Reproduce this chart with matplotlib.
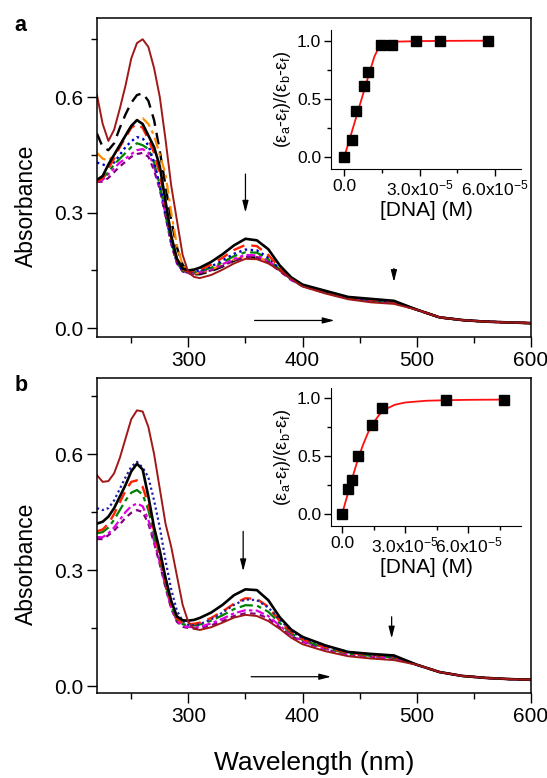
import numpy as np
import matplotlib
matplotlib.use('Agg')
import matplotlib.pyplot as plt

plt.rcParams['font.family'] = ['Liberation Sans', 'DejaVu Sans']
plt.rcParams['mathtext.default'] = 'regular'

# wavelength grid (nm) for the per-curve part, plus a shared tail
wl_head = [220, 225, 230, 235, 240, 245, 250, 255, 260, 265, 270, 275, 280, 285,
           290, 295, 300, 305, 310, 320, 330, 340, 350, 360, 370, 380, 390, 400,
           420, 440, 460, 480]
wl_tail = [500, 520, 540, 560, 580, 600]

# ---- panel a spectra ----
a_darkred = [0.605, 0.53, 0.486, 0.515, 0.57, 0.63, 0.70, 0.74, 0.75, 0.73, 0.675, 0.60,
             0.49, 0.37, 0.28, 0.19, 0.145, 0.133, 0.13, 0.138, 0.152, 0.168, 0.18, 0.179,
             0.168, 0.15, 0.128, 0.108, 0.090, 0.075, 0.067, 0.063]
a_blackdash = [0.505, 0.47, 0.462, 0.48, 0.52, 0.555, 0.585, 0.605, 0.61, 0.59, 0.54, 0.46,
               0.37, 0.28, 0.21, 0.165, 0.145, 0.14, 0.14, 0.148, 0.16, 0.175, 0.185, 0.183,
               0.172, 0.153, 0.13, 0.11, 0.092, 0.077, 0.07, 0.066]
a_orange = [0.455, 0.44, 0.435, 0.45, 0.475, 0.50, 0.525, 0.54, 0.545, 0.53, 0.50, 0.45,
            0.40, 0.30, 0.215, 0.163, 0.145, 0.142, 0.143, 0.152, 0.165, 0.178, 0.186, 0.185,
            0.173, 0.155, 0.131, 0.111, 0.093, 0.078, 0.071, 0.067]
a_black = [0.385, 0.395, 0.425, 0.45, 0.475, 0.50, 0.525, 0.54, 0.53, 0.50, 0.47, 0.42,
           0.33, 0.24, 0.18, 0.155, 0.15, 0.152, 0.157, 0.172, 0.192, 0.215, 0.232, 0.228,
           0.205, 0.163, 0.132, 0.113, 0.097, 0.081, 0.076, 0.071]
a_red = [0.38, 0.39, 0.415, 0.44, 0.47, 0.495, 0.52, 0.53, 0.52, 0.49, 0.455, 0.40,
         0.32, 0.235, 0.178, 0.152, 0.147, 0.148, 0.152, 0.165, 0.183, 0.203, 0.216, 0.213,
         0.19, 0.157, 0.129, 0.112, 0.095, 0.08, 0.074, 0.069]
a_blue = [0.43, 0.425, 0.42, 0.43, 0.45, 0.47, 0.485, 0.496, 0.492, 0.475, 0.43, 0.37,
          0.30, 0.225, 0.172, 0.15, 0.146, 0.147, 0.15, 0.16, 0.176, 0.193, 0.204, 0.202,
          0.183, 0.153, 0.128, 0.111, 0.094, 0.079, 0.073, 0.068]
a_green = [0.385, 0.39, 0.405, 0.425, 0.44, 0.455, 0.47, 0.48, 0.475, 0.465, 0.43, 0.37,
           0.30, 0.225, 0.172, 0.15, 0.145, 0.145, 0.148, 0.157, 0.171, 0.187, 0.197, 0.196,
           0.179, 0.152, 0.127, 0.11, 0.094, 0.079, 0.072, 0.068]
a_magenta = [0.38, 0.385, 0.40, 0.415, 0.43, 0.44, 0.452, 0.462, 0.465, 0.455, 0.42, 0.365,
             0.295, 0.22, 0.17, 0.148, 0.143, 0.143, 0.146, 0.154, 0.166, 0.18, 0.19, 0.189,
             0.175, 0.15, 0.126, 0.11, 0.093, 0.078, 0.071, 0.067]
a_purple = [0.38, 0.38, 0.39, 0.405, 0.42, 0.432, 0.445, 0.452, 0.455, 0.445, 0.41, 0.36,
            0.29, 0.218, 0.168, 0.147, 0.142, 0.141, 0.143, 0.15, 0.162, 0.175, 0.185, 0.184,
            0.171, 0.148, 0.125, 0.109, 0.092, 0.077, 0.07, 0.066]
a_tail = [0.048, 0.028, 0.021, 0.017, 0.015, 0.013]

# ---- panel b spectra ----
b_darkred = [0.545, 0.528, 0.53, 0.55, 0.59, 0.64, 0.69, 0.713, 0.71, 0.67, 0.60, 0.51,
             0.42, 0.36, 0.285, 0.21, 0.165, 0.148, 0.145, 0.152, 0.164, 0.177, 0.184, 0.181,
             0.168, 0.148, 0.125, 0.108, 0.09, 0.077, 0.071, 0.067]
b_blue = [0.46, 0.455, 0.46, 0.48, 0.51, 0.54, 0.567, 0.58, 0.565, 0.54, 0.48, 0.41,
          0.325, 0.25, 0.195, 0.168, 0.158, 0.157, 0.16, 0.172, 0.19, 0.21, 0.224, 0.222,
          0.203, 0.172, 0.142, 0.124, 0.103, 0.088, 0.081, 0.076]
b_black = [0.42, 0.425, 0.438, 0.46, 0.49, 0.52, 0.555, 0.575, 0.56, 0.49, 0.41, 0.35,
           0.28, 0.22, 0.18, 0.17, 0.169, 0.171, 0.176, 0.19, 0.21, 0.235, 0.25, 0.248,
           0.222, 0.178, 0.146, 0.127, 0.105, 0.088, 0.083, 0.079]
b_red = [0.40, 0.405, 0.42, 0.445, 0.475, 0.505, 0.528, 0.532, 0.515, 0.47, 0.40, 0.335,
         0.27, 0.212, 0.175, 0.162, 0.16, 0.161, 0.164, 0.176, 0.193, 0.213, 0.227, 0.225,
         0.205, 0.168, 0.139, 0.121, 0.10, 0.086, 0.08, 0.076]
b_green = [0.395, 0.398, 0.41, 0.43, 0.455, 0.48, 0.50, 0.507, 0.495, 0.455, 0.39, 0.33,
           0.265, 0.208, 0.172, 0.16, 0.157, 0.157, 0.159, 0.169, 0.183, 0.199, 0.209, 0.208,
           0.192, 0.163, 0.136, 0.119, 0.098, 0.084, 0.078, 0.074]
b_magenta = [0.385, 0.385, 0.395, 0.41, 0.43, 0.45, 0.465, 0.472, 0.465, 0.43, 0.375, 0.32,
             0.258, 0.203, 0.168, 0.156, 0.153, 0.152, 0.153, 0.162, 0.174, 0.188, 0.196, 0.195,
             0.181, 0.156, 0.132, 0.116, 0.096, 0.082, 0.076, 0.072]
b_purple = [0.38, 0.38, 0.39, 0.402, 0.418, 0.435, 0.448, 0.455, 0.45, 0.42, 0.37, 0.315,
            0.255, 0.20, 0.166, 0.153, 0.15, 0.149, 0.15, 0.157, 0.168, 0.181, 0.188, 0.187,
            0.175, 0.152, 0.13, 0.114, 0.095, 0.081, 0.075, 0.071]
b_tail = [0.055, 0.036, 0.026, 0.021, 0.018, 0.016]

# ---- insets: binding data (x in 1e-5 M) ----
ins_a_x = [0, 0.33, 0.49, 0.78, 0.97, 1.46, 1.92, 2.86, 3.83, 5.73]
ins_a_y = [0, 0.15, 0.40, 0.61, 0.73, 0.96, 0.96, 1.0, 1.0, 1.0]
fit_a_x = [0, 0.2, 0.4, 0.6, 0.8, 1.0, 1.2, 1.35, 1.5, 1.7, 2.0, 3.0, 4.0, 5.0, 5.75]
fit_a_y = [0, 0.14, 0.285, 0.43, 0.575, 0.72, 0.86, 0.93, 0.965, 0.983, 0.99, 0.995,
           0.997, 0.998, 0.998]

ins_b_x = [0, 0.29, 0.48, 0.76, 1.43, 1.90, 4.92, 7.67]
ins_b_y = [0, 0.22, 0.30, 0.50, 0.77, 0.92, 0.99, 0.99]
fit_b_x = [0, 0.25, 0.5, 0.75, 1.0, 1.25, 1.5, 1.75, 2.0, 2.5, 3.0, 4.0, 5.0, 6.0, 7.7]
fit_b_y = [0, 0.16, 0.32, 0.47, 0.60, 0.71, 0.79, 0.855, 0.90, 0.945, 0.965, 0.98,
           0.985, 0.988, 0.99]

# styles: (data, color, linestyle, linewidth)
styles_a = [
    (a_blackdash, 'black', (0, (5, 3)), 1.7),
    (a_orange, '#FF8C00', (0, (5, 2, 1.5, 2)), 1.6),
    (a_purple, '#800080', (0, (2.5, 2)), 1.6),
    (a_magenta, '#E000E0', (0, (4, 1.5, 1.5, 1.5, 1.5, 1.5)), 1.6),
    (a_green, '#008000', (0, (6, 2, 2, 2)), 1.6),
    (a_blue, '#0000CC', (0, (1, 1.5)), 1.7),
    (a_red, '#FF2000', (0, (5, 3)), 1.7),
    (a_black, 'black', '-', 1.9),
    (a_darkred, '#A01818', '-', 1.4),
]
styles_b = [
    (b_purple, '#800080', (0, (2.5, 2)), 1.6),
    (b_magenta, '#E000E0', (0, (4, 1.5, 1.5, 1.5)), 1.6),
    (b_green, '#008000', (0, (6, 2, 2, 2)), 1.6),
    (b_red, '#FF2000', (0, (5, 3)), 1.7),
    (b_blue, '#2020AA', (0, (1, 1.3)), 1.6),
    (b_black, 'black', '-', 1.9),
    (b_darkred, '#A01818', '-', 1.4),
]

fig = plt.figure(figsize=(5.47, 7.78), dpi=100)
ax_a = fig.add_axes([0.1773, 0.5668, 0.7934, 0.410])
ax_b = fig.add_axes([0.1773, 0.1093, 0.7934, 0.405])

wl = wl_head + wl_tail
for ax, styles, tail in [(ax_a, styles_a, a_tail), (ax_b, styles_b, b_tail)]:
    for vals, c, ls, lw in styles:
        ax.plot(wl, vals + tail, color=c, linestyle=ls, linewidth=lw)
    ax.set_xlim(220, 600)
    ax.set_xticks([300, 400, 500, 600])
    ax.set_xticks([250, 350, 450, 550], minor=True)
    ax.set_yticks([0.0, 0.3, 0.6])
    ax.set_yticks([0.15, 0.45, 0.75], minor=True)
    ax.set_yticklabels(['0.0', '0.3', '0.6'])
    ax.tick_params(which='major', direction='out', length=7, width=1, labelsize=15, pad=3)
    ax.tick_params(which='minor', direction='out', length=4, width=1)
    for sp in ax.spines.values():
        sp.set_linewidth(1.1)
    ax.set_ylabel('Absorbance', fontsize=16.5)
    ax.yaxis.set_label_coords(-0.135, 0.41)

ax_a.set_ylim(-0.023, 0.805)
ax_b.set_ylim(-0.018, 0.797)

arrow = dict(arrowstyle='-|>,head_width=0.18,head_length=0.7', color='black', lw=0.9,
             shrinkA=0, shrinkB=0)
ax_a.annotate('', xy=(350, 0.30), xytext=(350, 0.40), arrowprops=arrow)
ax_a.annotate('', xy=(480, 0.12), xytext=(480, 0.155), arrowprops=arrow)
ax_a.annotate('', xy=(428, 0.02), xytext=(358, 0.02), arrowprops=arrow)
ax_b.annotate('', xy=(348, 0.297), xytext=(348, 0.40), arrowprops=arrow)
ax_b.annotate('', xy=(478, 0.123), xytext=(478, 0.179), arrowprops=arrow)
ax_b.annotate('', xy=(425, 0.024), xytext=(355, 0.024), arrowprops=arrow)

fig.text(0.027, 0.967, 'a', fontsize=15.5, fontweight='bold', va='center')
fig.text(0.027, 0.505, 'b', fontsize=15.5, fontweight='bold', va='center')
fig.text(0.574, 1 - 763 / 778, 'Wavelength (nm)', fontsize=19, ha='center', va='center')

# insets
in_a = fig.add_axes([331 / 547, 1 - 169 / 778, 190 / 547, 139 / 778])
in_b = fig.add_axes([331 / 547, 1 - 526 / 778, 190 / 547, 138 / 778])

for ax, px, py, fx, fy, xmax in [(in_a, ins_a_x, ins_a_y, fit_a_x, fit_a_y, 7.03),
                                 (in_b, ins_b_x, ins_b_y, fit_b_x, fit_b_y, 8.5)]:
    ax.plot(fx, fy, color='#FF1010', lw=1.3, zorder=2)
    ax.plot(px, py, linestyle='none', marker='s', color='black', ms=6.5, zorder=3)
    ax.set_xlim(-0.52, xmax)
    ax.set_ylim(-0.1, 1.09)
    ax.set_xticks([0, 3, 6])
    ax.set_xticklabels(['0.0', '3.0x10$^{-5}$', '6.0x10$^{-5}$'])
    ax.set_xticks([1.5, 4.5, 7.5] if xmax > 7.5 else [1.5, 4.5], minor=True)
    ax.set_yticks([0.0, 0.5, 1.0])
    ax.set_yticks([0.25, 0.75], minor=True)
    ax.spines['top'].set_visible(False)
    ax.spines['right'].set_visible(False)
    ax.tick_params(which='major', direction='out', length=5, width=1, labelsize=12.5, pad=2)
    ax.tick_params(which='minor', direction='out', length=3, width=1)
    ax.patch.set_alpha(0)
    ax.set_xlabel('[DNA] (M)', fontsize=15, labelpad=2)
    ax.set_ylabel('(ε$_a$-ε$_f$)/(ε$_b$-ε$_f$)', fontsize=13, labelpad=3)

fig.savefig('out.png', dpi=100)
